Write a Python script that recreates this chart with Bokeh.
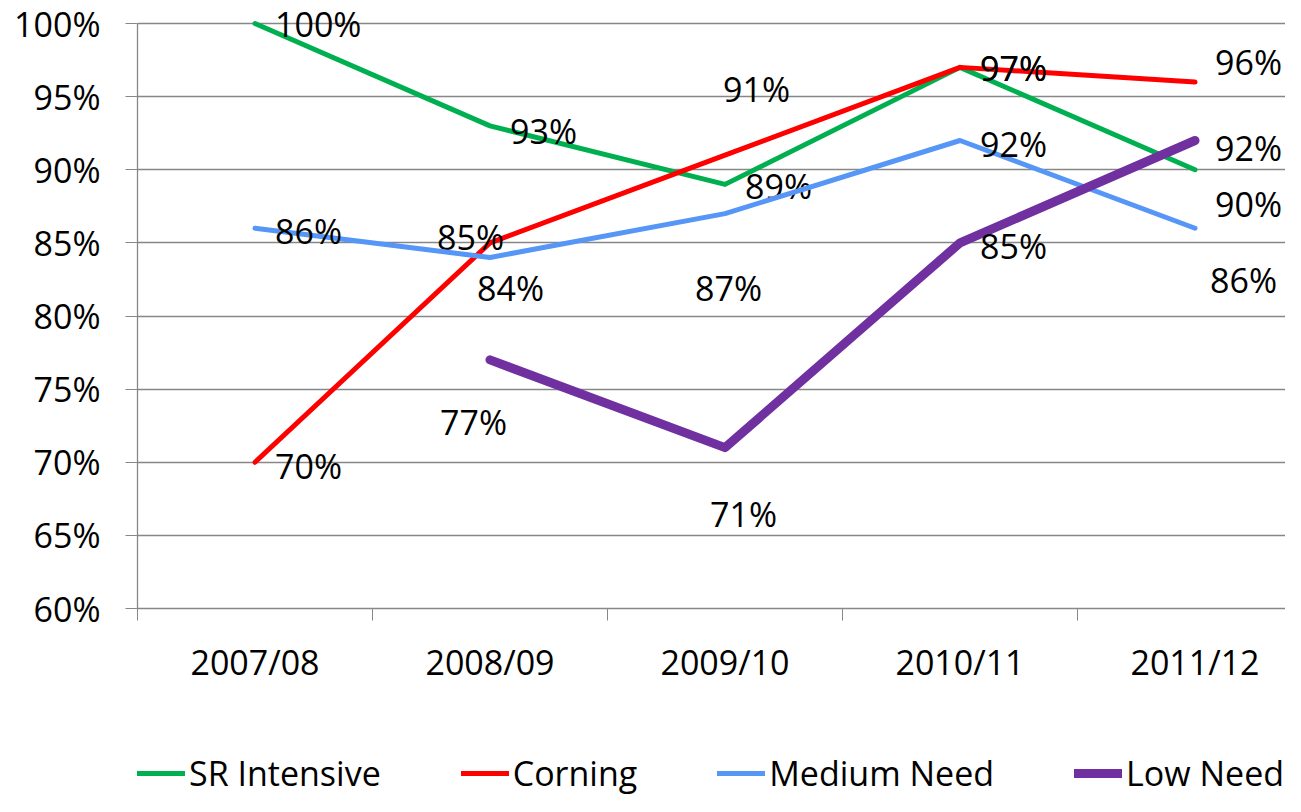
import math
from bokeh.plotting import figure
from bokeh.layouts import column
from bokeh.models import (Range1d, FixedTicker, NumeralTickFormatter, Legend,
                          LegendItem, ColumnDataSource)
from bokeh.core.properties import value
from bokeh.embed import file_html
from bokeh.resources import INLINE

# ---------------- data ----------------
categories = ["2007/08", "2008/09", "2009/10", "2010/11", "2011/12"]
sr_intensive = [1.00, 0.93, 0.89, 0.97, 0.90]
corning = [0.70, 0.85, 0.91, 0.97, 0.96]
medium_need = [0.86, 0.84, 0.87, 0.92, 0.86]
low_need = [float("nan"), 0.77, 0.71, 0.85, 0.92]
y_ticks = [0.60, 0.65, 0.70, 0.75, 0.80, 0.85, 0.90, 0.95, 1.00]

# ---------------- styling ----------------
FONT = "Open Sans"
FS = "34px"
series = [
    ("SR Intensive", sr_intensive, "#00B050", 5,
     [(20, 0), (20, 5), (20, 2), (20, 1), (20, 34)]),
    ("Corning", corning, "#FF0000", 5,
     [(20, 4), (-53, -6), (-2, -66), (20, 1), (20, -20)]),
    ("Medium Need", medium_need, "#5596F7", 5,
     [(20, 3), (-13, 30), (-30, 74), (20, 3), (15, 52)]),
    ("Low Need", low_need, "#7030A0", 9,
     [(0, 0), (-50, 62), (-15, 66), (20, 3), (20, 7)]),
]

xs = [i + 0.5 for i in range(len(categories))]

W = 1285
TOP_PAD_PX = 23      # room above the 100% line so the top data label isn't clipped
PLOT_PX = 585        # pixel height between 60% and 100%
y_lo, y_hi = y_ticks[0], y_ticks[-1]
y_end = y_hi + (y_hi - y_lo) * TOP_PAD_PX / PLOT_PX

p = figure(width=W, height=690, output_backend="svg", toolbar_location=None,
           x_range=Range1d(0, 4.885), y_range=Range1d(y_lo, y_end),
           min_border_left=137, min_border_top=0, min_border_right=0,
           min_border_bottom=82)
p.outline_line_color = None
p.background_fill_color = "white"
p.border_fill_color = "white"

grey = "#878787"
p.xgrid.grid_line_color = None
p.ygrid.grid_line_color = grey
p.ygrid.grid_line_width = 1.3
p.ygrid.ticker = FixedTicker(ticks=y_ticks)

# y axis
p.yaxis.ticker = FixedTicker(ticks=y_ticks)
p.yaxis.bounds = (y_lo, y_hi)
p.yaxis.formatter = NumeralTickFormatter(format="0%")
p.yaxis.axis_line_color = grey
p.yaxis.axis_line_width = 1.3
p.yaxis.major_tick_line_color = grey
p.yaxis.major_tick_out = 12
p.yaxis.major_tick_in = 0
p.yaxis.minor_tick_line_color = None
p.yaxis.major_label_standoff = 25
p.yaxis.major_label_text_font = FONT
p.yaxis.major_label_text_font_size = FS
p.yaxis.major_label_text_color = "black"

# x axis
p.xaxis.ticker = FixedTicker(ticks=xs, minor_ticks=list(range(len(categories) + 1)))
p.xaxis.major_label_overrides = {x: c for x, c in zip(xs, categories)}
p.xaxis.axis_line_color = grey
p.xaxis.axis_line_width = 1.3
p.xaxis.major_tick_line_color = None
p.xaxis.major_tick_out = 0
p.xaxis.major_tick_in = 0
p.xaxis.minor_tick_line_color = grey
p.xaxis.minor_tick_out = 12
p.xaxis.minor_tick_in = 0
p.xaxis.major_label_standoff = 18
p.xaxis.major_label_text_font = FONT
p.xaxis.major_label_text_font_size = FS
p.xaxis.major_label_text_color = "black"

# separate strip below the chart that only holds the legend
pl = figure(width=W, height=106, output_backend="svg", toolbar_location=None,
            x_range=Range1d(0, 1), y_range=Range1d(10, 11),
            min_border_left=137, min_border_right=0, min_border_top=0,
            min_border_bottom=0, x_axis_location=None, y_axis_location=None)
pl.outline_line_color = None
pl.grid.visible = False
pl.background_fill_color = "white"
pl.border_fill_color = "white"

items = []
for name, vals, color, lw, offs in series:
    src = ColumnDataSource(dict(x=xs, y=vals))
    p.line("x", "y", source=src, line_color=color, line_width=lw,
           line_cap="round", line_join="round")
    # same series in the legend strip (its y range keeps the line out of view)
    rl = pl.line("x", "y", source=src, line_color=color, line_width=lw,
                 line_cap="round", line_join="round")
    items.append(LegendItem(label=name, renderers=[rl]))
    lx, ly, lt, dx, dy = [], [], [], [], []
    for x, v, (ox, oy) in zip(xs, vals, offs):
        if v is None or (isinstance(v, float) and math.isnan(v)):
            continue
        lx.append(x); ly.append(v); lt.append(f"{round(v * 100)}%")
        dx.append(ox); dy.append(oy)
    lsrc = ColumnDataSource(dict(x=lx, y=ly, t=lt, dx=dx, dy=dy))
    p.text("x", "y", text="t", source=lsrc, x_offset="dx", y_offset="dy",
           text_align="left", text_baseline="middle",
           text_font=value(FONT), text_font_size=FS, text_color="black")

legend = Legend(items=items, orientation="horizontal", location=(0, 0),
                label_text_font=FONT, label_text_font_size=FS,
                label_text_color="black", glyph_width=48, glyph_height=30,
                label_standoff=4, spacing=80, padding=0, margin=0,
                border_line_color=None, background_fill_alpha=0)
pl.add_layout(legend, "center")

layout = column(p, pl, spacing=0)
open("out.html", "w").write(file_html(layout, INLINE))
